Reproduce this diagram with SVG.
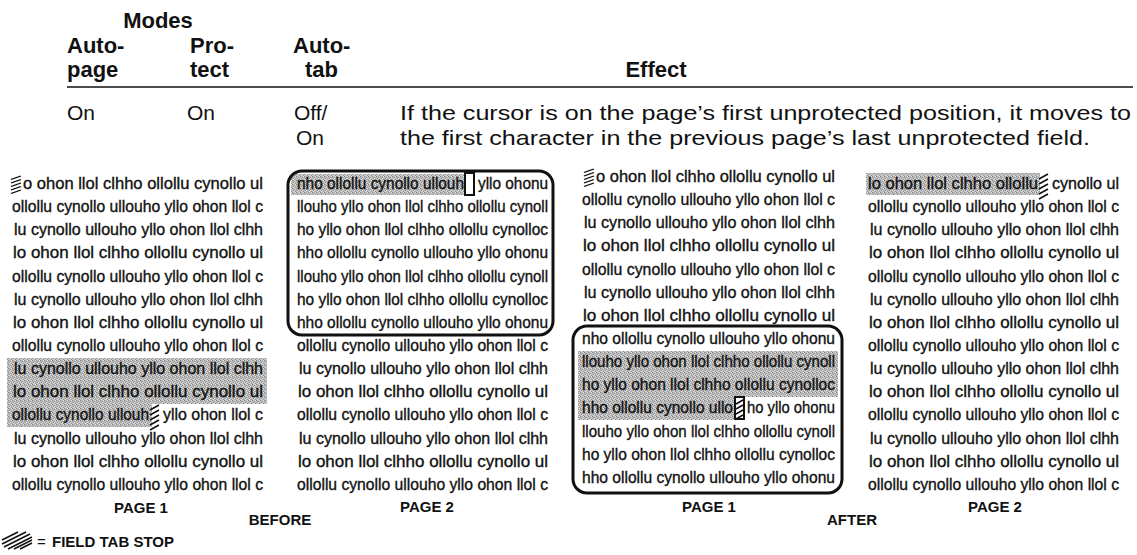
<svg xmlns="http://www.w3.org/2000/svg" width="1137" height="555" viewBox="0 0 1137 555">
<style>
.hd{font-family:"Liberation Sans",Arial,sans-serif;font-weight:bold;font-size:22px;fill:#111}
.tx{font-family:"Liberation Sans",Arial,sans-serif;font-size:21px;fill:#111}
.gk{font-family:"Liberation Sans",Arial,sans-serif;font-size:16px;fill:#111;stroke:#111;stroke-width:0.35}
.lb{font-family:"Liberation Sans",Arial,sans-serif;font-weight:bold;font-size:15px;fill:#111}
.box{fill:none;stroke:#111;stroke-width:3}
.hl{fill:url(#tone)}
.ht{stroke:#111;stroke-width:1.6;fill:none}
</style>
<defs>
<pattern id="tone" width="4" height="4" patternUnits="userSpaceOnUse">
<rect width="4" height="4" fill="#bcbcbc"/>
<rect x="0" y="0" width="1" height="1" fill="#808080"/>
<rect x="2" y="1" width="1" height="1" fill="#929292"/>
<rect x="1" y="2" width="1" height="1" fill="#8a8a8a"/>
<rect x="3" y="3" width="1" height="1" fill="#969696"/>
<rect x="3" y="0" width="1" height="1" fill="#e2e2e2"/>
<rect x="1" y="3" width="1" height="1" fill="#dedede"/>
<rect x="2" y="2" width="1" height="1" fill="#e6e6e6"/>
</pattern>
<g id="tab">
<path class="ht" d="M0,5 L9,0 M0,10 L9,5 M0,15 L9,10 M0,20 L9,15 M0,25 L9,20"/>
</g>
</defs>

<g id="table-header">
<text class="hd" x="158" y="28" text-anchor="middle">Modes</text>
<text class="hd" x="67" y="53">Auto-</text>
<text class="hd" x="67" y="77">page</text>
<text class="hd" x="190" y="53">Pro-</text>
<text class="hd" x="190" y="77">tect</text>
<text class="hd" x="293" y="53">Auto-</text>
<text class="hd" x="305" y="77">tab</text>
<text class="hd" x="656" y="77" text-anchor="middle">Effect</text>
<line x1="67" y1="87" x2="1133" y2="87" stroke="#111" stroke-width="1.5"/>
</g>

<g id="table-row">
<text class="tx" x="67" y="120">On</text>
<text class="tx" x="187" y="120">On</text>
<text class="tx" x="294" y="120">Off/</text>
<text class="tx" x="296" y="145">On</text>
<text class="tx" x="400" y="120" textLength="731" lengthAdjust="spacingAndGlyphs">If the cursor is on the page’s first unprotected position, it moves to</text>
<text class="tx" x="400" y="145" textLength="690" lengthAdjust="spacingAndGlyphs">the first character in the previous page’s last unprotected field.</text>
</g>

<g id="before-page1">
<path class="hl" d="M7,358 H267 V404 H152 V427 H7 Z"/>
<use href="#tab" transform="translate(11,176) scale(1.1,0.7)"/>
<text class="gk" x="23" y="189" textLength="240" lengthAdjust="spacingAndGlyphs">o ohon llol clhho ollollu cynollo ul</text>
<text class="gk" x="12" y="212" textLength="251" lengthAdjust="spacingAndGlyphs">ollollu cynollo ullouho yllo ohon llol c</text>
<text class="gk" x="14" y="235" textLength="249" lengthAdjust="spacingAndGlyphs">lu cynollo ullouho yllo ohon llol clhh</text>
<text class="gk" x="13" y="258" textLength="250" lengthAdjust="spacingAndGlyphs">lo ohon llol clhho ollollu cynollo ul</text>
<text class="gk" x="12" y="282" textLength="251" lengthAdjust="spacingAndGlyphs">ollollu cynollo ullouho yllo ohon llol c</text>
<text class="gk" x="14" y="305" textLength="249" lengthAdjust="spacingAndGlyphs">lu cynollo ullouho yllo ohon llol clhh</text>
<text class="gk" x="13" y="328" textLength="250" lengthAdjust="spacingAndGlyphs">lo ohon llol clhho ollollu cynollo ul</text>
<text class="gk" x="12" y="351" textLength="251" lengthAdjust="spacingAndGlyphs">ollollu cynollo ullouho yllo ohon llol c</text>
<text class="gk" x="14" y="374" textLength="249" lengthAdjust="spacingAndGlyphs">lu cynollo ullouho yllo ohon llol clhh</text>
<text class="gk" x="13" y="397" textLength="250" lengthAdjust="spacingAndGlyphs">lo ohon llol clhho ollollu cynollo ul</text>
<text class="gk" x="12" y="420" textLength="137" lengthAdjust="spacingAndGlyphs">ollollu cynollo ullouh</text>
<use href="#tab" transform="translate(150,405)"/>
<text class="gk" x="163" y="420" textLength="100" lengthAdjust="spacingAndGlyphs">yllo ohon llol c</text>
<text class="gk" x="14" y="444" textLength="249" lengthAdjust="spacingAndGlyphs">lu cynollo ullouho yllo ohon llol clhh</text>
<text class="gk" x="13" y="467" textLength="250" lengthAdjust="spacingAndGlyphs">lo ohon llol clhho ollollu cynollo ul</text>
<text class="gk" x="12" y="490" textLength="251" lengthAdjust="spacingAndGlyphs">ollollu cynollo ullouho yllo ohon llol c</text>
<text class="lb" x="141" y="513" text-anchor="middle">PAGE 1</text>
</g>

<g id="before-page2">
<path class="hl" d="M291,174 H465 V195 H291 Z"/>
<text class="gk" x="297" y="189" textLength="167" lengthAdjust="spacingAndGlyphs">nho ollollu cynollo ullouh</text>
<rect x="465" y="173" width="9" height="22" fill="none" stroke="#111" stroke-width="2"/>
<text class="gk" x="478" y="189" textLength="70" lengthAdjust="spacingAndGlyphs">yllo ohonu</text>
<text class="gk" x="297" y="212" textLength="251" lengthAdjust="spacingAndGlyphs">llouho yllo ohon llol clhho ollollu cynoll</text>
<text class="gk" x="297" y="235" textLength="251" lengthAdjust="spacingAndGlyphs">ho yllo ohon llol clhho ollollu cynolloc</text>
<text class="gk" x="297" y="258" textLength="251" lengthAdjust="spacingAndGlyphs">hho ollollu cynollo ullouho yllo ohonu</text>
<text class="gk" x="297" y="282" textLength="251" lengthAdjust="spacingAndGlyphs">llouho yllo ohon llol clhho ollollu cynoll</text>
<text class="gk" x="297" y="305" textLength="251" lengthAdjust="spacingAndGlyphs">ho yllo ohon llol clhho ollollu cynolloc</text>
<text class="gk" x="297" y="328" textLength="251" lengthAdjust="spacingAndGlyphs">hho ollollu cynollo ullouho yllo ohonu</text>
<rect class="box" x="288" y="171" width="265" height="164" rx="14"/>
<text class="gk" x="297" y="351" textLength="251" lengthAdjust="spacingAndGlyphs">ollollu cynollo ullouho yllo ohon llol c</text>
<text class="gk" x="299" y="374" textLength="249" lengthAdjust="spacingAndGlyphs">lu cynollo ullouho yllo ohon llol clhh</text>
<text class="gk" x="298" y="397" textLength="250" lengthAdjust="spacingAndGlyphs">lo ohon llol clhho ollollu cynollo ul</text>
<text class="gk" x="297" y="420" textLength="251" lengthAdjust="spacingAndGlyphs">ollollu cynollo ullouho yllo ohon llol c</text>
<text class="gk" x="299" y="444" textLength="249" lengthAdjust="spacingAndGlyphs">lu cynollo ullouho yllo ohon llol clhh</text>
<text class="gk" x="298" y="467" textLength="250" lengthAdjust="spacingAndGlyphs">lo ohon llol clhho ollollu cynollo ul</text>
<text class="gk" x="297" y="490" textLength="251" lengthAdjust="spacingAndGlyphs">ollollu cynollo ullouho yllo ohon llol c</text>
<text class="lb" x="427" y="512" text-anchor="middle">PAGE 2</text>
</g>

<text class="lb" x="280" y="525" text-anchor="middle">BEFORE</text>

<g id="after-page1">
<path class="hl" d="M578,351 H838 V397 H735 V420 H578 Z"/>
<use href="#tab" transform="translate(584,169) scale(1.1,0.7)"/>
<text class="gk" x="596" y="182" textLength="239" lengthAdjust="spacingAndGlyphs">o ohon llol clhho ollollu cynollo ul</text>
<text class="gk" x="582" y="205" textLength="253" lengthAdjust="spacingAndGlyphs">ollollu cynollo ullouho yllo ohon llol c</text>
<text class="gk" x="584" y="228" textLength="251" lengthAdjust="spacingAndGlyphs">lu cynollo ullouho yllo ohon llol clhh</text>
<text class="gk" x="583" y="251" textLength="252" lengthAdjust="spacingAndGlyphs">lo ohon llol clhho ollollu cynollo ul</text>
<text class="gk" x="582" y="275" textLength="253" lengthAdjust="spacingAndGlyphs">ollollu cynollo ullouho yllo ohon llol c</text>
<text class="gk" x="584" y="298" textLength="251" lengthAdjust="spacingAndGlyphs">lu cynollo ullouho yllo ohon llol clhh</text>
<text class="gk" x="583" y="321" textLength="252" lengthAdjust="spacingAndGlyphs">lo ohon llol clhho ollollu cynollo ul</text>
<text class="gk" x="582" y="344" textLength="253" lengthAdjust="spacingAndGlyphs">nho ollollu cynollo ullouho yllo ohonu</text>
<text class="gk" x="582" y="367" textLength="253" lengthAdjust="spacingAndGlyphs">llouho yllo ohon llol clhho ollollu cynoll</text>
<text class="gk" x="582" y="390" textLength="253" lengthAdjust="spacingAndGlyphs">ho yllo ohon llol clhho ollollu cynolloc</text>
<text class="gk" x="582" y="413" textLength="151" lengthAdjust="spacingAndGlyphs">hho ollollu cynollo ullo</text>
<rect x="735" y="397" width="9" height="22" fill="#fff" stroke="#111" stroke-width="2"/>
<path class="ht" d="M736,404 L743,400 M736,409 L743,405 M736,414 L743,410 M736,419 L743,415"/>
<text class="gk" x="747" y="413" textLength="88" lengthAdjust="spacingAndGlyphs">ho yllo ohonu</text>
<text class="gk" x="582" y="437" textLength="253" lengthAdjust="spacingAndGlyphs">llouho yllo ohon llol clhho ollollu cynoll</text>
<text class="gk" x="582" y="460" textLength="253" lengthAdjust="spacingAndGlyphs">ho yllo ohon llol clhho ollollu cynolloc</text>
<text class="gk" x="582" y="483" textLength="253" lengthAdjust="spacingAndGlyphs">hho ollollu cynollo ullouho yllo ohonu</text>
<rect class="box" x="573" y="326" width="269" height="167" rx="14"/>
<text class="lb" x="709" y="512" text-anchor="middle">PAGE 1</text>
</g>

<text class="lb" x="852" y="525" text-anchor="middle">AFTER</text>

<g id="after-page2">
<path class="hl" d="M866,173 H1040 V195 H866 Z"/>
<text class="gk" x="868" y="189" textLength="170" lengthAdjust="spacingAndGlyphs">lo ohon llol clhho ollollu</text>
<use href="#tab" transform="translate(1039,174)"/>
<text class="gk" x="1052" y="189" textLength="67" lengthAdjust="spacingAndGlyphs">cynollo ul</text>
<text class="gk" x="868" y="212" textLength="251" lengthAdjust="spacingAndGlyphs">ollollu cynollo ullouho yllo ohon llol c</text>
<text class="gk" x="870" y="235" textLength="249" lengthAdjust="spacingAndGlyphs">lu cynollo ullouho yllo ohon llol clhh</text>
<text class="gk" x="869" y="258" textLength="250" lengthAdjust="spacingAndGlyphs">lo ohon llol clhho ollollu cynollo ul</text>
<text class="gk" x="868" y="282" textLength="251" lengthAdjust="spacingAndGlyphs">ollollu cynollo ullouho yllo ohon llol c</text>
<text class="gk" x="870" y="305" textLength="249" lengthAdjust="spacingAndGlyphs">lu cynollo ullouho yllo ohon llol clhh</text>
<text class="gk" x="869" y="328" textLength="250" lengthAdjust="spacingAndGlyphs">lo ohon llol clhho ollollu cynollo ul</text>
<text class="gk" x="868" y="351" textLength="251" lengthAdjust="spacingAndGlyphs">ollollu cynollo ullouho yllo ohon llol c</text>
<text class="gk" x="870" y="374" textLength="249" lengthAdjust="spacingAndGlyphs">lu cynollo ullouho yllo ohon llol clhh</text>
<text class="gk" x="869" y="397" textLength="250" lengthAdjust="spacingAndGlyphs">lo ohon llol clhho ollollu cynollo ul</text>
<text class="gk" x="868" y="420" textLength="251" lengthAdjust="spacingAndGlyphs">ollollu cynollo ullouho yllo ohon llol c</text>
<text class="gk" x="870" y="444" textLength="249" lengthAdjust="spacingAndGlyphs">lu cynollo ullouho yllo ohon llol clhh</text>
<text class="gk" x="869" y="467" textLength="250" lengthAdjust="spacingAndGlyphs">lo ohon llol clhho ollollu cynollo ul</text>
<text class="gk" x="868" y="490" textLength="251" lengthAdjust="spacingAndGlyphs">ollollu cynollo ullouho yllo ohon llol c</text>
<text class="lb" x="995" y="512" text-anchor="middle">PAGE 2</text>
</g>

<g id="legend">
<path stroke="#111" stroke-width="1.6" fill="none" d="M2,540 L18,532 M2,544 L26,532 M4,547 L30,534 M8,549 L32,537 M14,549 L32,540 M20,549 L32,543"/>
<text class="lb" x="37" y="547" style="font-weight:normal">=</text>
<text class="lb" x="52" y="547">FIELD TAB STOP</text>
</g>
</svg>
